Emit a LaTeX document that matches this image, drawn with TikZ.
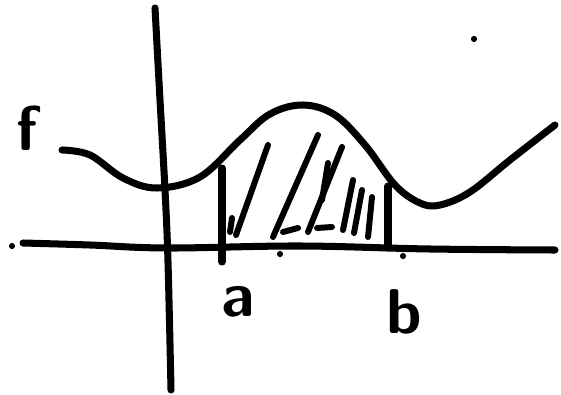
\documentclass[tikz,border=0pt]{standalone}
\usepackage{tikz}
\usetikzlibrary{positioning}

\begin{document}
\begin{tikzpicture}[
  x=0.02cm, y=-0.02cm,
  pen/.style={line width=4pt, line cap=round, line join=round},
  hatch/.style={line width=3.4pt, line cap=round},
  speck/.style={circle, fill=black, inner sep=0pt, minimum size=3.5pt},
  letter/.style={font=\fontsize{36}{36}\selectfont\sffamily\bfseries, inner sep=0pt}
]
\useasboundingbox (0,0) rectangle (561,395);
% axes
\draw[pen] plot[smooth, tension=0.6] coordinates {(155,8) (160,100) (165,190) (168,262) (171,390)};
\draw[pen] plot[smooth, tension=0.6] coordinates {(23,243) (90,245) (167,248) (300,246) (430,249) (555,250)};
% the function
\draw[pen] plot[smooth, tension=0.6] coordinates {(62,150) (90,155) (123,178) (157,188) (200,177) (240,140) (270,114) (303,105) (335,115) (365,145) (395,185) (420,203) (440,205) (470,192) (510,160) (555,125)};
% bounds
\coordinate (a top) at (222,168);
\coordinate (a bot) at (222,262);
\coordinate (b top) at (388,186);
\coordinate (b bot) at (388,248);
\draw[pen] (a top) -- (a bot);
\draw[pen] (b top) -- (b bot);
% hatching
\draw[hatch] (268,145) -- (236,235);
\draw[hatch] (318,135) -- (273,237);
\draw[hatch] (342,147) -- (308,232);
\draw[hatch] (328,163) -- (322,200);
\draw[hatch] (353,180) -- (343,230);
\draw[hatch] (362,190) -- (354,233);
\draw[hatch] (372,197) -- (368,237);
\draw[hatch] (232,218) -- (230,232);
\draw[hatch] (283,232) -- (298,228);
\draw[hatch] (317,228) -- (332,227);
% specks
\node[speck] (dot left) at (12,246) {};
\node[speck] (dot sky) at (474,39) {};
\node[speck] (dot mid) at (280,254) {};
\node[speck] (dot b) at (403,256) {};
% labels
\node[letter] (f) at (27,128) {f};
\node[letter] (a) at (238,302) {a};
\node[letter] (b) at (404,312) {b};
\end{tikzpicture}
\end{document}
